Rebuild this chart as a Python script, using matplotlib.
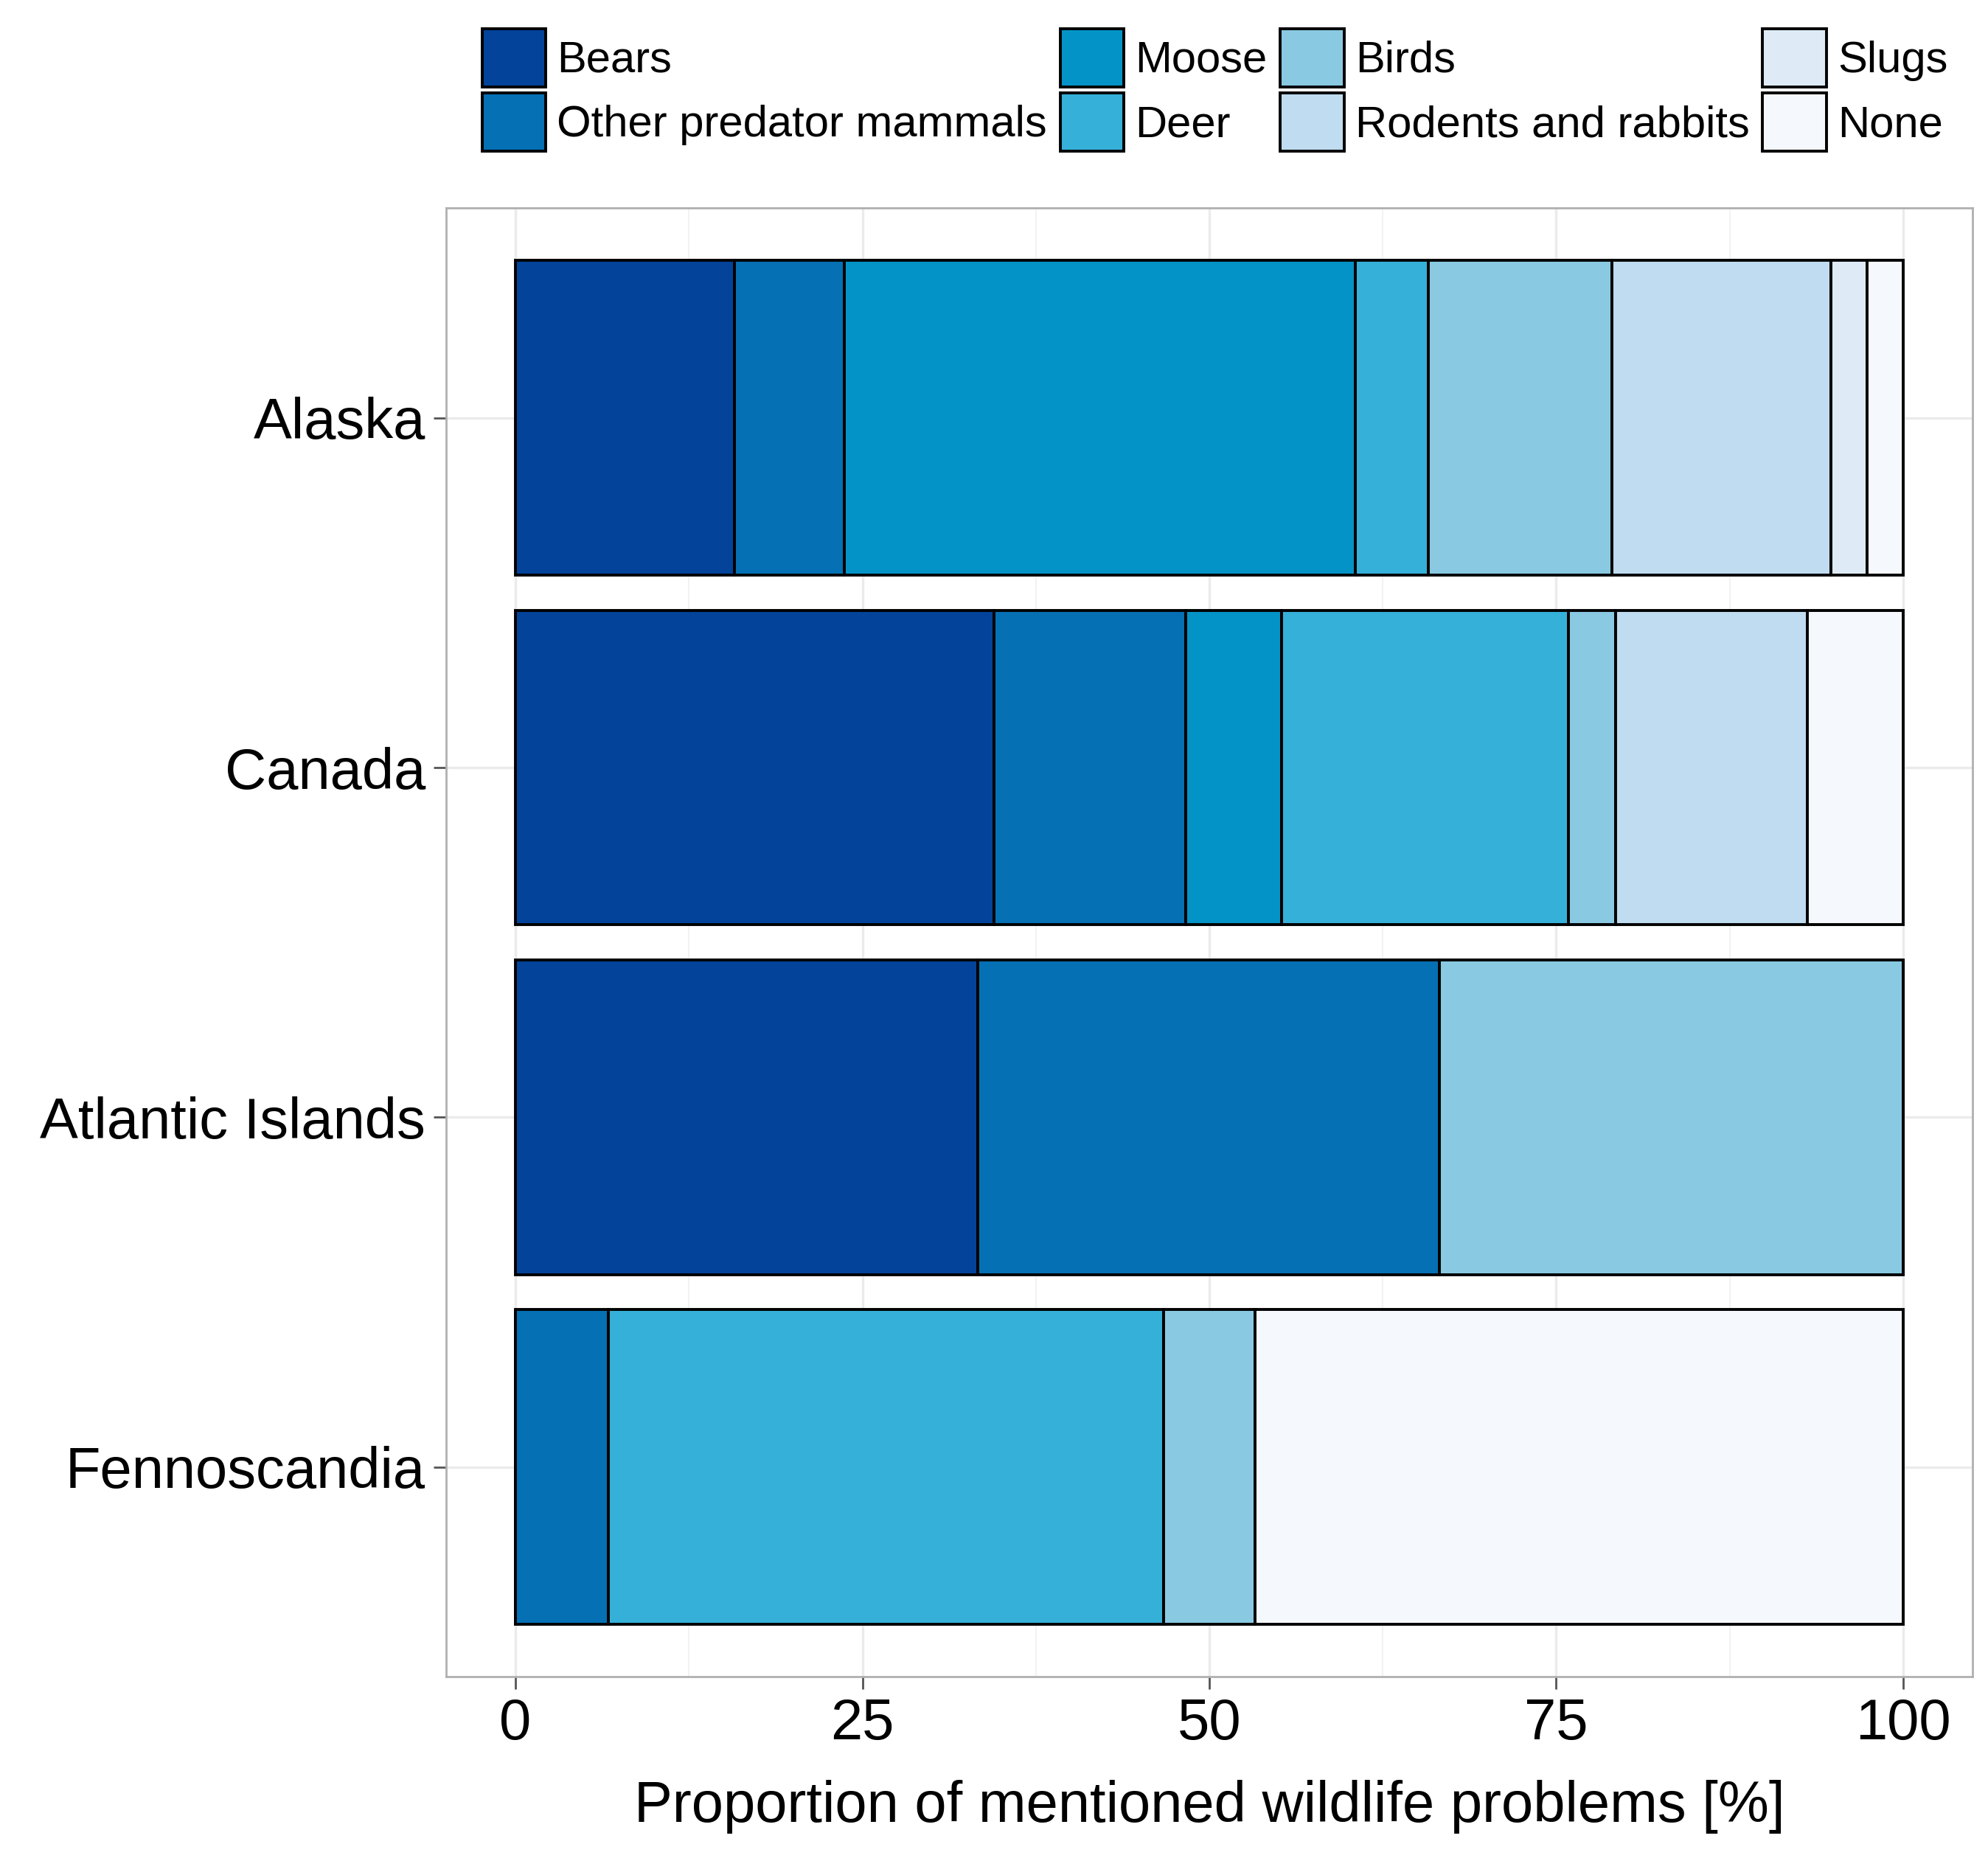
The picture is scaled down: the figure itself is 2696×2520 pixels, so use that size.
import numpy as np
import matplotlib.pyplot as plt
from matplotlib.patches import Patch

plt.rcParams['font.family'] = ['Liberation Sans', 'DejaVu Sans']

regions = ['Alaska', 'Canada', 'Atlantic Islands', 'Fennoscandia']
categories = ['Bears', 'Other predator mammals', 'Moose', 'Deer', 'Birds',
              'Rodents and rabbits', 'Slugs', 'None']
colors = ['#03439a', '#0570b4', '#0493c6', '#35b0d9', '#89c9e1',
          '#bfdcf0', '#deebf7', '#f5f9fd']

# percent of mentioned problems per region, in category order
alaska = [15.8, 7.9, 36.8, 5.3, 13.2, 15.8, 2.6, 2.6]
canada = [34.5, 13.8, 6.9, 20.7, 3.4, 13.8, 0.0, 6.9]
atlantic = [33.3, 33.3, 0.0, 0.0, 33.4, 0.0, 0.0, 0.0]
fenno = [0.0, 6.7, 0.0, 40.0, 6.6, 0.0, 0.0, 46.7]

values = np.array([alaska, canada, atlantic, fenno])
ypos = [4, 3, 2, 1]

fig = plt.figure(figsize=(13.48, 12.6), dpi=200)
ax = fig.add_axes([0.2244, 0.0976, 0.7678, 0.7904])

left = np.zeros(len(regions))
for j, cat in enumerate(categories):
    ax.barh(ypos, values[:, j], left=left, height=0.9, color=colors[j],
            edgecolor='black', linewidth=1.4, zorder=3)
    left += values[:, j]

ax.set_xlim(-5, 105)
ax.set_ylim(0.4, 4.6)
ax.set_xticks([0, 25, 50, 75, 100])
ax.set_xticks([12.5, 37.5, 62.5, 87.5], minor=True)
ax.set_yticks(ypos)
ax.set_yticklabels(regions)
ax.grid(True, which='major', color='#ebebeb', linewidth=1.2, zorder=0)
ax.grid(True, which='minor', axis='x', color='#f2f2f2', linewidth=0.7, zorder=0)
for s in ax.spines.values():
    s.set_color('#b0b0b0')
    s.set_linewidth(1.0)
ax.tick_params(axis='both', which='major', labelsize=28, color='#555555',
               length=6, width=1.0, pad=4)
ax.tick_params(axis='both', which='minor', length=0)
ax.set_xlabel('Proportion of mentioned wildlife problems [%]', fontsize=28,
              labelpad=14)

handles = [Patch(facecolor=c, edgecolor='black', linewidth=1.4) for c in colors]
fig.legend(handles, categories, ncol=4, loc='upper left',
           bbox_to_anchor=(0.228, 1.0), frameon=False, fontsize=21.5,
           handlelength=1.45, handleheight=1.65, handletextpad=0.25,
           columnspacing=0.3, labelspacing=0.15, borderpad=0.15)

fig.savefig('out.png', dpi=200, facecolor='white')
